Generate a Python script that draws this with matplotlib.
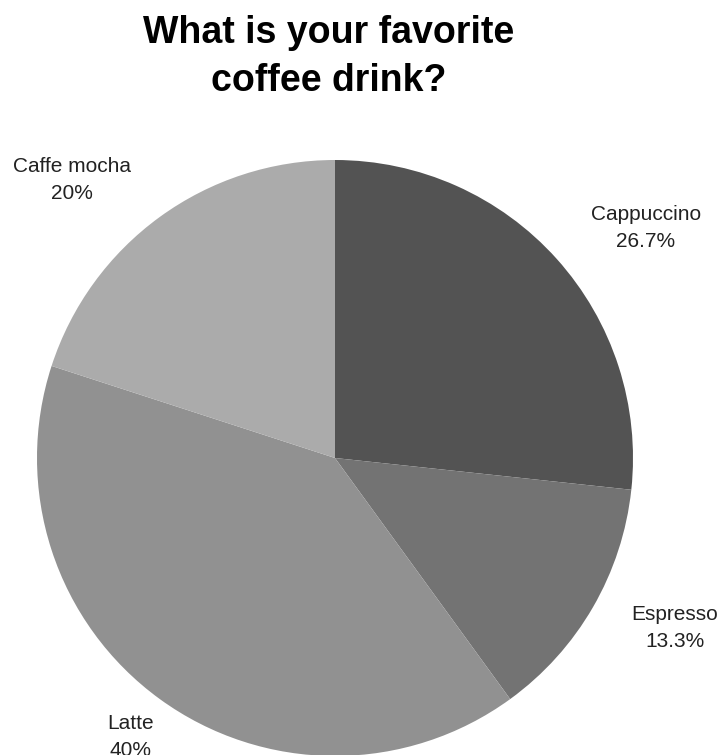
import matplotlib
matplotlib.use("Agg")
import matplotlib.pyplot as plt

# survey answers
drinks = ["Cappuccino", "Espresso", "Latte", "Caffe mocha"]
shares = [26.7, 13.3, 40.0, 20.0]
share_labels = ["26.7%", "13.3%", "40%", "20%"]
colors = ["#535353", "#737373", "#919191", "#ababab"]

plt.rcParams['font.family'] = ['Liberation Sans', 'DejaVu Sans']

W, H = 724, 755
fig = plt.figure(figsize=(W / 100, H / 100), dpi=100)
ax = fig.add_axes([0, 0, 1, 1])

# pie centre / radius in pixel units (y measured from bottom)
cx, cy, r = 335, H - 458, 298
ax.pie(shares, colors=colors, startangle=90, counterclock=False,
       center=(cx, cy), radius=r, frame=True,
       wedgeprops=dict(linewidth=0))
ax.set_xlim(0, W)
ax.set_ylim(0, H)
ax.set_aspect('equal')
ax.axis('off')

# label anchor points (pixel coords from top-left)
label_pos = [(646, 228), (675, 628), (131, 737), (72, 180)]
for name, pct, (x, y) in zip(drinks, share_labels, label_pos):
    ax.text(x, H - y, name + "\n" + pct, ha='center', va='center',
            fontsize=15, color='#222222', linespacing=1.5)

fig.text(329 / W, 1 - 57 / H, "What is your favorite\ncoffee drink?",
         ha='center', va='center', fontsize=27, fontweight='bold',
         color='black', linespacing=1.4)

fig.savefig("out.png", dpi=100)
